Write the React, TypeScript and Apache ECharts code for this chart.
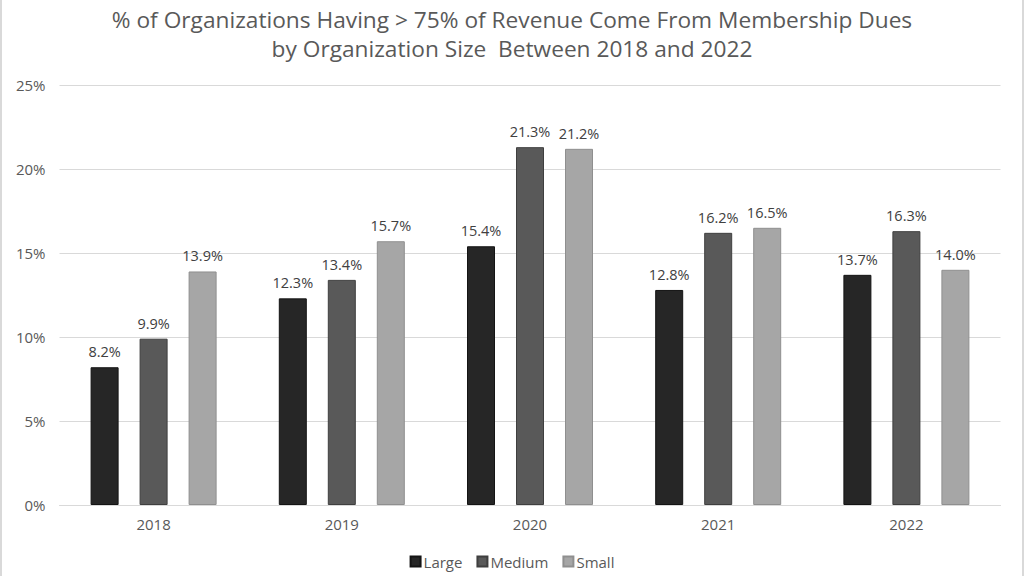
import React, { useEffect, useRef } from "react";
import * as echarts from "echarts";

const categories = ["2018", "2019", "2020", "2021", "2022"];
const seriesNames = ["Large", "Medium", "Small"];
const large = [8.2, 12.3, 15.4, 12.8, 13.7];
const medium = [9.9, 13.4, 21.3, 16.2, 16.3];
const small = [13.9, 15.7, 21.2, 16.5, 14.0];
const yTicks = [0, 5, 10, 15, 20, 25];

const colors = ["#262626", "#595959", "#a6a6a6"];
const borders = ["#141414", "#3f3f3f", "#8f8f8f"];
const FONT = "'Open Sans', 'Liberation Sans', sans-serif";

export default function App() {
  const ref = useRef<HTMLDivElement>(null);
  useEffect(() => {
    if (!ref.current) return;
    const chart = echarts.init(ref.current, null, { renderer: "svg" });
    const data = [large, medium, small];
    chart.setOption({
      animation: false,
      backgroundColor: "#ffffff",
      textStyle: { fontFamily: FONT },
      title: {
        text: "% of Organizations Having > 75% of Revenue Come From Membership Dues\nby Organization Size  Between 2018 and 2022",
        left: "center",
        top: 0,
        textStyle: {
          fontFamily: FONT,
          fontSize: 22.7,
          fontWeight: "normal",
          color: "#595959",
          lineHeight: 29,
        },
      },
      legend: {
        bottom: 2,
        left: "center",
        itemWidth: 10,
        itemHeight: 10,
        itemGap: 14,
        icon: "rect",
        data: seriesNames,
        textStyle: { fontFamily: FONT, fontSize: 15, color: "#595959", padding: [0, 0, 0, -2] },
      },
      grid: { left: 57.5, right: 21.5, top: 85, bottom: 71, containLabel: false },
      xAxis: {
        type: "category",
        data: categories,
        axisLine: { lineStyle: { color: "#d9d9d9", width: 1 } },
        axisTick: { show: false },
        axisLabel: { fontFamily: FONT, fontSize: 15, color: "#595959", margin: 11 },
      },
      yAxis: {
        type: "value",
        min: yTicks[0],
        max: yTicks[yTicks.length - 1],
        interval: 5,
        axisLine: { show: false },
        axisTick: { show: false },
        splitLine: { lineStyle: { color: "#d9d9d9", width: 1 } },
        axisLabel: { fontFamily: FONT, fontSize: 15, color: "#595959", margin: 14, formatter: "{value}%" },
      },
      series: seriesNames.map((name, i) => ({
        name,
        type: "bar",
        data: data[i],
        barWidth: 28,
        barGap: "75%",
        itemStyle: { color: colors[i], borderColor: borders[i], borderWidth: 1 },
        label: {
          show: true,
          position: "top",
          distance: 8,
          fontFamily: FONT,
          fontSize: 14.5,
          color: "#404040",
          formatter: (p: any) => p.value.toFixed(1) + "%",
        },
      })),
    });
    return () => chart.dispose();
  }, []);
  return (
    <div
      ref={ref}
      style={{
        position: "absolute",
        left: 0,
        top: 0,
        width: 1024,
        height: 576,
        boxSizing: "border-box",
        borderLeft: "2px solid #d9d9d9",
        borderRight: "2px solid #d9d9d9",
      }}
    />
  );
}
